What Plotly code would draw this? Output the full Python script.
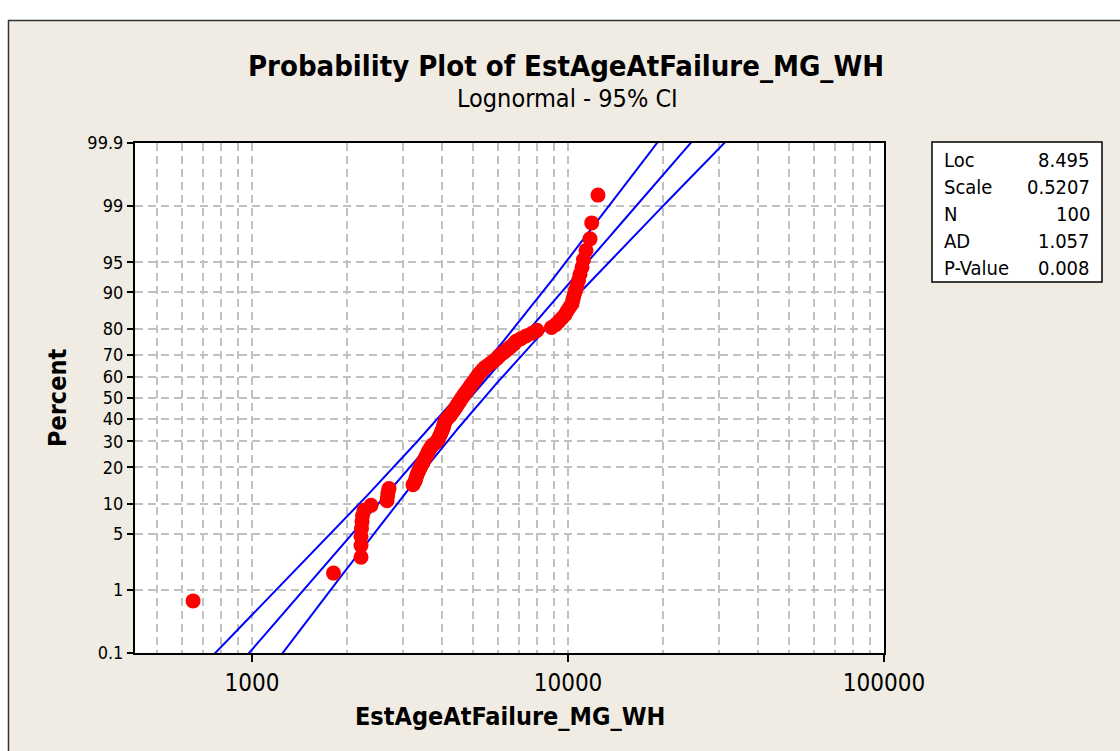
import numpy as np
import plotly.graph_objects as go
from statistics import NormalDist

# ---- text ----
title_text = "Probability Plot of EstAgeAtFailure_MG_WH"
subtitle_text = "Lognormal - 95% CI"
x_title = "EstAgeAtFailure_MG_WH"
y_title = "Percent"

# ---- observed ages (sorted) ----
est_age = [
    651, 1811, 2213, 2213, 2213, 2221, 2229, 2237, 2262, 2380,
    2674, 2684, 2694, 2714, 3232, 3280, 3304, 3328, 3365, 3402,
    3427, 3477, 3503, 3541, 3580, 3606, 3646, 3686, 3740, 3823,
    3879, 3907, 3936, 3965, 3994, 4023, 4037, 4052, 4082, 4112,
    4172, 4234, 4280, 4327, 4374, 4422, 4454, 4503, 4552, 4586,
    4636, 4687, 4739, 4791, 4843, 4897, 4950, 5005, 5060, 5116,
    5172, 5229, 5306, 5383, 5462, 5582, 5705, 5832, 5961, 6048,
    6182, 6319, 6459, 6601, 6748, 6847, 7099, 7362, 7692, 7979,
    8867, 9163, 9365, 9572, 9784, 9927, 10109, 10296, 10372, 10447,
    10562, 10678, 10795, 10914, 11074, 11195, 11402, 11741, 11885, 12443,
]

# ---- fitted lognormal parameters and goodness of fit ----
loc = 8.495
scale = 0.5207
n_obs = 100
ad_stat = 1.057
p_value = 0.008
stat_names = ["Loc", "Scale", "N", "AD", "P-Value"]
stat_values = ["8.495", "0.5207", "100", "1.057", "0.008"]

# ---- axis ticks ----
pct_ticks = [0.1, 1, 5, 10, 20, 30, 40, 50, 60, 70, 80, 90, 95, 99, 99.9]
pct_labels = ["0.1", "1", "5", "10", "20", "30", "40", "50", "60", "70",
              "80", "90", "95", "99", "99.9"]
x_major = [1000, 10000, 100000]
x_major_labels = ["1000", "10000", "100000"]
x_minor = [500, 600, 700, 800, 900,
           2000, 3000, 4000, 5000, 6000, 7000, 8000, 9000,
           20000, 30000, 40000, 50000, 60000, 70000, 80000, 90000]

# ---- page geometry (pixels) ----
W, H = 1120, 751
L, R, T, B = 135, 236, 143, 98
PW, PH = W - L - R, H - T - B


def px(xp):
    return (xp - L) / PW


def py(yp):
    return (H - B - yp) / PH


nd = NormalDist()
ages = np.sort(np.array(est_age, dtype=float))
n = len(ages)
ranks = np.arange(1, n + 1)
median_rank = (ranks - 0.3) / (n + 0.4)
z_pts = np.array([nd.inv_cdf(p) for p in median_rank])

z_lo, z_hi = nd.inv_cdf(0.001), nd.inv_cdf(0.999)
z_line = np.linspace(z_lo - 0.1, z_hi + 0.1, 400)
zc = nd.inv_cdf(0.975)
se = scale * np.sqrt(1.0 / n_obs + z_line ** 2 / (2.0 * n_obs))
fit_x = np.exp(loc + scale * z_line)
lower_x = np.exp(loc + scale * z_line - zc * se)
upper_x = np.exp(loc + scale * z_line + zc * se)

blue = "#0000FF"
fig = go.Figure()
for xs in (lower_x, fit_x, upper_x):
    fig.add_trace(go.Scatter(x=xs, y=z_line, mode="lines",
                             line=dict(color=blue, width=2),
                             hoverinfo="skip", showlegend=False))
fig.add_trace(go.Scatter(x=ages, y=z_pts, mode="markers",
                         marker=dict(color="#FF0000", size=15, line=dict(width=0)),
                         showlegend=False))

font_main = "Tahoma, DejaVu Sans Condensed, DejaVu Sans, sans-serif"
grid_col = "#C0C0C0"

fig.update_xaxes(
    type="log", range=[3 - (252 - L) / 316, 5],
    tickvals=x_major, ticktext=x_major_labels,
    ticks="outside", ticklen=7, tickwidth=2, tickcolor="black",
    showgrid=True, gridcolor=grid_col, gridwidth=1.5, griddash="8px,5px",
    minor=dict(tickvals=x_minor, showgrid=True, gridcolor=grid_col,
               gridwidth=1.5, griddash="8px,5px", ticks=""),
    showline=True, linecolor="black", linewidth=2, mirror=True,
    zeroline=False,
    tickfont=dict(family=font_main, size=24, color="black"),
)
fig.update_yaxes(
    range=[z_lo, z_hi],
    tickvals=[nd.inv_cdf(p / 100) for p in pct_ticks], ticktext=pct_labels,
    ticks="outside", ticklen=6, tickwidth=1.5, tickcolor="black",
    showgrid=True, gridcolor=grid_col, gridwidth=1.5, griddash="8px,5px",
    showline=True, linecolor="black", linewidth=2, mirror=True,
    zeroline=False,
    tickfont=dict(family=font_main, size=18, color="black"),
)

beige = "#F0ECE3"
shapes = [
    # white strips around the framed panel
    dict(type="rect", xref="paper", yref="paper", layer="below",
         x0=px(-5), x1=px(W + 5), y0=py(-5), y1=py(20),
         fillcolor="white", line=dict(width=0)),
    dict(type="rect", xref="paper", yref="paper", layer="below",
         x0=px(-5), x1=px(8), y0=py(-5), y1=py(H + 5),
         fillcolor="white", line=dict(width=0)),
    dict(type="line", xref="paper", yref="paper",
         x0=px(8), x1=px(W + 5), y0=py(20.5), y1=py(20.5),
         line=dict(color="#333333", width=1.5)),
    dict(type="line", xref="paper", yref="paper",
         x0=px(8.5), x1=px(8.5), y0=py(20), y1=py(H + 5),
         line=dict(color="#333333", width=1.5)),
    # statistics box
    dict(type="rect", xref="paper", yref="paper",
         x0=px(932), x1=px(1102), y0=py(142), y1=py(282),
         fillcolor="white", line=dict(color="black", width=1.5)),
]

annotations = [
    dict(text="<b>" + title_text + "</b>", x=px(566), y=py(66),
         font=dict(family=font_main, size=29, color="black")),
    dict(text=subtitle_text, x=px(567), y=py(98),
         font=dict(family=font_main, size=25, color="black")),
    dict(text="<b>" + x_title + "</b>", x=px(510), y=py(716),
         font=dict(family=font_main, size=25, color="black")),
    dict(text="<b>" + y_title + "</b>", x=px(57), y=py(398), textangle=-90,
         font=dict(family=font_main, size=25, color="black")),
]
for i, (name, val) in enumerate(zip(stat_names, stat_values)):
    yy = py(160 + 27 * i)
    annotations.append(dict(text=name, x=px(942), y=yy, xanchor="left",
                            font=dict(family=font_main, size=20, color="black")))
    annotations.append(dict(text=val, x=px(1092), y=yy, xanchor="right",
                            font=dict(family=font_main, size=20, color="black")))
for a in annotations:
    a.update(xref="paper", yref="paper", showarrow=False)
    a.setdefault("xanchor", "center")
    a.setdefault("yanchor", "middle")

fig.update_layout(
    width=W, height=H,
    margin=dict(l=L, r=R, t=T, b=B, pad=0),
    paper_bgcolor=beige, plot_bgcolor="white",
    shapes=shapes, annotations=annotations,
    showlegend=False,
    font=dict(family=font_main, color="black"),
)

fig.write_html("out.html")
